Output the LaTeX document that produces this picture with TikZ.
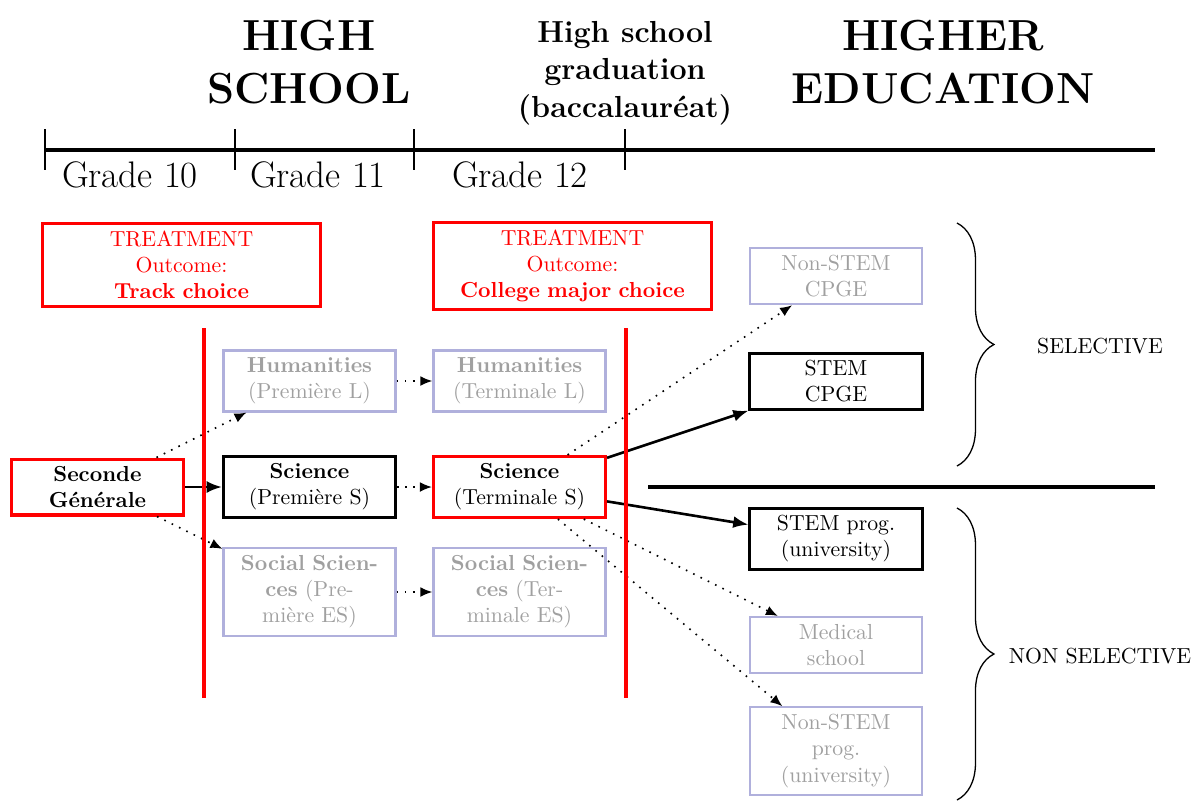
\documentclass[tikz,border=0pt]{standalone}
\usepackage{tikz}
\usepackage{amsmath, amssymb}
\usetikzlibrary{arrows.meta,decorations.pathreplacing}
\definecolor{fadedtext}{RGB}{160,160,160}
\definecolor{fadedline}{RGB}{176,176,220}
\tikzset{every picture/.style={line width=0.75pt}}
\tikzset{
  pathbox/.style={draw, line width=1.4pt, align=center, text width=72.5pt, inner sep=3.33pt},
  fadedbox/.style={draw=fadedline, line width=1pt, text=fadedtext, align=center, text width=72.5pt, inner sep=3.33pt},
  redbox/.style={pathbox, draw=red},
  treatbox/.style={draw=red, line width=1.4pt, text=red, align=center, text width=121pt, inner sep=3.33pt},
  mainflow/.style={-{Latex[length=7pt,width=5.5pt]}, line width=1.2pt},
  altflow/.style={-{Latex[length=5.5pt,width=4.5pt]}, dash pattern=on 0.75pt off 3pt},
  redcut/.style={red, line width=1.8pt},
  grp/.style={decorate, decoration={brace, amplitude=17pt}, line width=0.6pt},
}

\begin{document}
\begin{tikzpicture}[x=0.46pt,y=0.46pt,yscale=-1,xscale=1]
\useasboundingbox (0,0) rectangle (1200,802);

% Headings
\draw (309,62) node [font=\fontsize{20}{24}\selectfont\bfseries, align=center] (hschool) {HIGH\\SCHOOL};
\draw (943,62) node [font=\fontsize{20}{24}\selectfont\bfseries, align=center] (hedu) {HIGHER\\EDUCATION};
\draw (625,73) node [font=\fontsize{14}{17.3}\selectfont\bfseries, align=center] (bac) {High school\\graduation\\(baccalauréat)};

% Time line
\draw [line width=1.5pt] (45,150) -- (1155,150) ;
\draw [line width=1.2pt] (45,129) -- (45,170) ;
\draw [line width=0.6pt] (235,129) -- (235,170) ;
\draw [line width=0.6pt] (414,129) -- (414,170) ;
\draw [line width=1.2pt] (625,129) -- (625,170) ;
\draw (130,175) node [font=\fontsize{17}{20}\selectfont] (g10) {Grade 10};
\draw (318,175) node [font=\fontsize{17}{20}\selectfont] (g11) {Grade 11};
\draw (520,175) node [font=\fontsize{17}{20}\selectfont] (g12) {Grade 12};

% Treatment boxes
\draw (181.5,265) node [treatbox] (treat1) {TREATMENT\\Outcome:\\\textbf{Track choice}};
\draw (572.5,266) node [treatbox] (treat2) {TREATMENT\\Outcome:\\\textbf{College major choice}};

% Tracks
\draw (97.5,487) node [redbox] (sec) {\textbf{Seconde}\\\textbf{Générale}};
\draw (309.5,381) node [fadedbox] (humP) {\textbf{Humanities}\\(Première L)};
\draw (309.5,487) node [pathbox] (sciP) {\textbf{Science}\\(Première S)};
\draw (309.5,592) node [fadedbox] (socP) {\textbf{Social Scien-}\\\textbf{ces} (Pre-\\mière ES)};
\draw (519.5,381) node [fadedbox] (humT) {\textbf{Humanities}\\(Terminale L)};
\draw (519.5,487) node [redbox] (sciT) {\textbf{Science}\\(Terminale S)};
\draw (519.5,592) node [fadedbox] (socT) {\textbf{Social Scien-}\\\textbf{ces} (Ter-\\minale ES)};

% Higher education
\draw (836,276) node [fadedbox] (nstemC) {Non-STEM\\CPGE};
\draw (836,381.5) node [pathbox] (stemC) {STEM\\CPGE};
\draw (836,539) node [pathbox] (stemU) {STEM prog.\\(university)};
\draw (836,645) node [fadedbox] (med) {Medical\\school};
\draw (836,751) node [fadedbox] (nstemU) {Non-STEM\\prog.\\(university)};

% Flows
\draw [mainflow] (sec) -- (sciP) ;
\draw [altflow] (sec) -- (humP) ;
\draw [altflow] (sec) -- (socP) ;
\draw [altflow] (humP) -- (humT) ;
\draw [altflow] (sciP) -- (sciT) ;
\draw [altflow] (socP) -- (socT) ;
\draw [mainflow] (sciT) -- (stemC) ;
\draw [mainflow] (sciT) -- (stemU) ;
\draw [altflow] (sciT) -- (nstemC) ;
\draw [altflow] (sciT) -- (med) ;
\draw [altflow] (sciT) -- (nstemU) ;

% Treatment cuts
\draw [redcut] (204,328) -- (204,698) ;
\draw [redcut] (626,328) -- (626,698) ;

% Selectivity
\draw [line width=1.5pt] (648,487) -- (1155,487) ;
\draw [grp] (957,223) -- (957,466) ;
\draw [grp] (957,508) -- (957,800) ;
\draw (1100,346) node (sel) {SELECTIVE};
\draw (1100,656) node (nonsel) {NON SELECTIVE};

\end{tikzpicture}
\end{document}
